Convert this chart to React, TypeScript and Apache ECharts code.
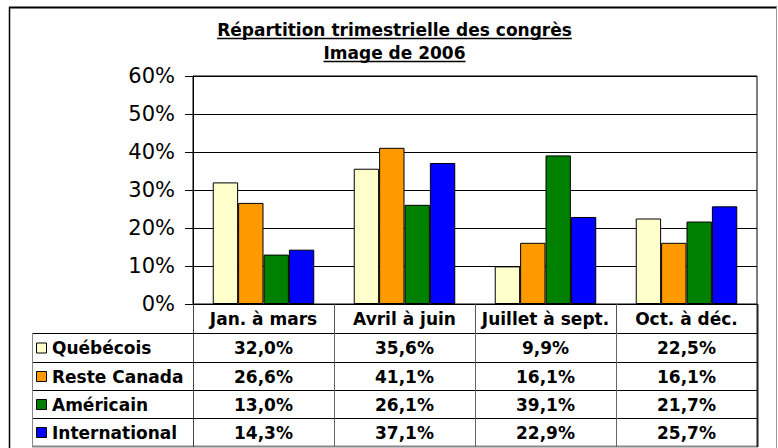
import React, { useEffect, useRef } from 'react';
import * as echarts from 'echarts';

const categories = ['Jan. à mars', 'Avril à juin', 'Juillet à sept.', 'Oct. à déc.'];
const seriesNames = ['Québécois', 'Reste Canada', 'Américain', 'International'];
const quebecois = [32.0, 35.6, 9.9, 22.5];
const resteCanada = [26.6, 41.1, 16.1, 16.1];
const americain = [13.0, 26.1, 39.1, 21.7];
const international = [14.3, 37.1, 22.9, 25.7];
const seriesColors = ['#FFFFCC', '#FF9900', '#008000', '#0000FF'];
const titleLines = ['Répartition trimestrielle des congrès', 'Image de 2006'];
const yMin = 0;
const yMax = 60;
const yStep = 10;

const FONT = '"DejaVu Sans", Verdana, sans-serif';
const BOLD_SIZE = 17;

function fmt(v: number) {
  return v.toFixed(1).replace('.', ',') + '%';
}

function measure(text: string, font: string) {
  const c = document.createElement('canvas').getContext('2d');
  if (!c) return text.length * 9;
  c.font = font;
  return c.measureText(text).width;
}

export default function App() {
  const ref = useRef<HTMLDivElement>(null);
  useEffect(() => {
    const chart = echarts.init(ref.current!, undefined, { renderer: 'svg' });
    const allSeries = [quebecois, resteCanada, americain, international];
    const gridL = 193, gridT = 76, gridR = 757, gridB = 304;
    chart.setOption({
      animation: false,
      backgroundColor: '#fff',
      grid: {
        left: gridL, top: gridT, width: gridR - gridL, height: gridB - gridT,
        show: true, borderColor: '#000', borderWidth: 1, backgroundColor: 'transparent',
      },
      xAxis: {
        type: 'category',
        data: categories,
        axisLine: { show: true, lineStyle: { color: '#000', width: 1 } },
        axisTick: { show: true, interval: 0, length: 29, lineStyle: { color: '#555' } },
        axisLabel: {
          interval: 0, margin: 6, color: '#000', fontFamily: FONT,
          fontWeight: 'bold', fontSize: BOLD_SIZE,
        },
      },
      yAxis: {
        type: 'value',
        min: yMin, max: yMax, interval: yStep,
        axisLine: { show: true, lineStyle: { color: '#000' } },
        axisTick: { show: true, length: 8, lineStyle: { color: '#000' } },
        splitLine: { show: true, lineStyle: { color: '#000', width: 1 } },
        axisLabel: { formatter: '{value}%', fontSize: 21, color: '#000', fontFamily: FONT, margin: 18 },
      },
      series: allSeries.map((d, i) => ({
        type: 'bar',
        name: seriesNames[i],
        data: d,
        barGap: '0%',
        barCategoryGap: '28%',
        itemStyle: { color: seriesColors[i], borderColor: '#000', borderWidth: 1 },
      })),
    });

    const colX = categories.map((_, i) => chart.convertToPixel({ xAxisIndex: 0 }, i) as number);
    const rowLines = [333, 362, 390, 418, 446];
    const tableL = 32;
    const els: any[] = [];
    const line = (x1: number, y1: number, x2: number, y2: number, stroke: string, lw = 1) =>
      els.push({ type: 'line', silent: true, z: 100, shape: { x1, y1, x2, y2 }, style: { stroke, lineWidth: lw } });

    // outer frame
    line(9, 7.5, 777, 7.5, '#000', 2);
    line(9.5, 7, 9.5, 448, '#000', 1.5);
    line(776.5, 7, 776.5, 448, '#999', 1);

    // title
    const titleFont = `bold ${BOLD_SIZE}px ${FONT}`;
    const titleY = [30, 53];
    titleLines.forEach((t, i) => {
      els.push({
        type: 'text', z: 100, silent: true,
        style: {
          text: t, x: 394.5, y: titleY[i], align: 'center', verticalAlign: 'middle',
          fontFamily: FONT, fontWeight: 'bold', fontSize: BOLD_SIZE, fill: '#000',
        },
      });
      const w = measure(t, titleFont);
      line(394.5 - w / 2, titleY[i] + 8.5, 394.5 + w / 2, titleY[i] + 8.5, '#000', 1.5);
    });

    // table horizontal lines
    rowLines.forEach((y, i) => {
      line(tableL, y + 0.5, gridR + 1, y + 0.5, i === rowLines.length - 1 ? '#888' : '#000', i === rowLines.length - 1 ? 2 : 1);
    });
    // table vertical lines
    line(tableL + 0.5, rowLines[0], tableL + 0.5, 447, '#888', 1);
    line(gridL + 0.5, gridB, gridL + 0.5, 447, '#444', 1);
    const bandW = (gridR - gridL) / categories.length;
    for (let i = 1; i < categories.length; i++) {
      const x = Math.round(colX[i] - bandW / 2) + 0.5;
      line(x, rowLines[0], x, 447, '#666', 1);
    }
    line(gridR + 0.5, gridB, gridR + 0.5, 447, '#222', 2);

    // row labels + values
    allSeries.forEach((d, r) => {
      const cy = (rowLines[r] + rowLines[r + 1]) / 2 + 0.5;
      els.push({
        type: 'rect', z: 100, silent: true,
        shape: { x: 36.5, y: cy - 5, width: 10, height: 10 },
        style: { fill: seriesColors[r], stroke: '#000', lineWidth: 1 },
      });
      els.push({
        type: 'text', z: 100, silent: true,
        style: {
          text: seriesNames[r], x: 52, y: cy, align: 'left', verticalAlign: 'middle',
          fontFamily: FONT, fontWeight: 'bold', fontSize: BOLD_SIZE, fill: '#000',
        },
      });
      d.forEach((v, c) => {
        els.push({
          type: 'text', z: 100, silent: true,
          style: {
            text: fmt(v), x: colX[c], y: cy, align: 'center', verticalAlign: 'middle',
            fontFamily: FONT, fontWeight: 'bold', fontSize: BOLD_SIZE, fill: '#000',
          },
        });
      });
    });

    chart.setOption({ graphic: { elements: els } });
    return () => chart.dispose();
  }, []);
  return <div ref={ref} style={{ position: 'fixed', left: 0, top: 0, width: 778, height: 448 }} />;
}
